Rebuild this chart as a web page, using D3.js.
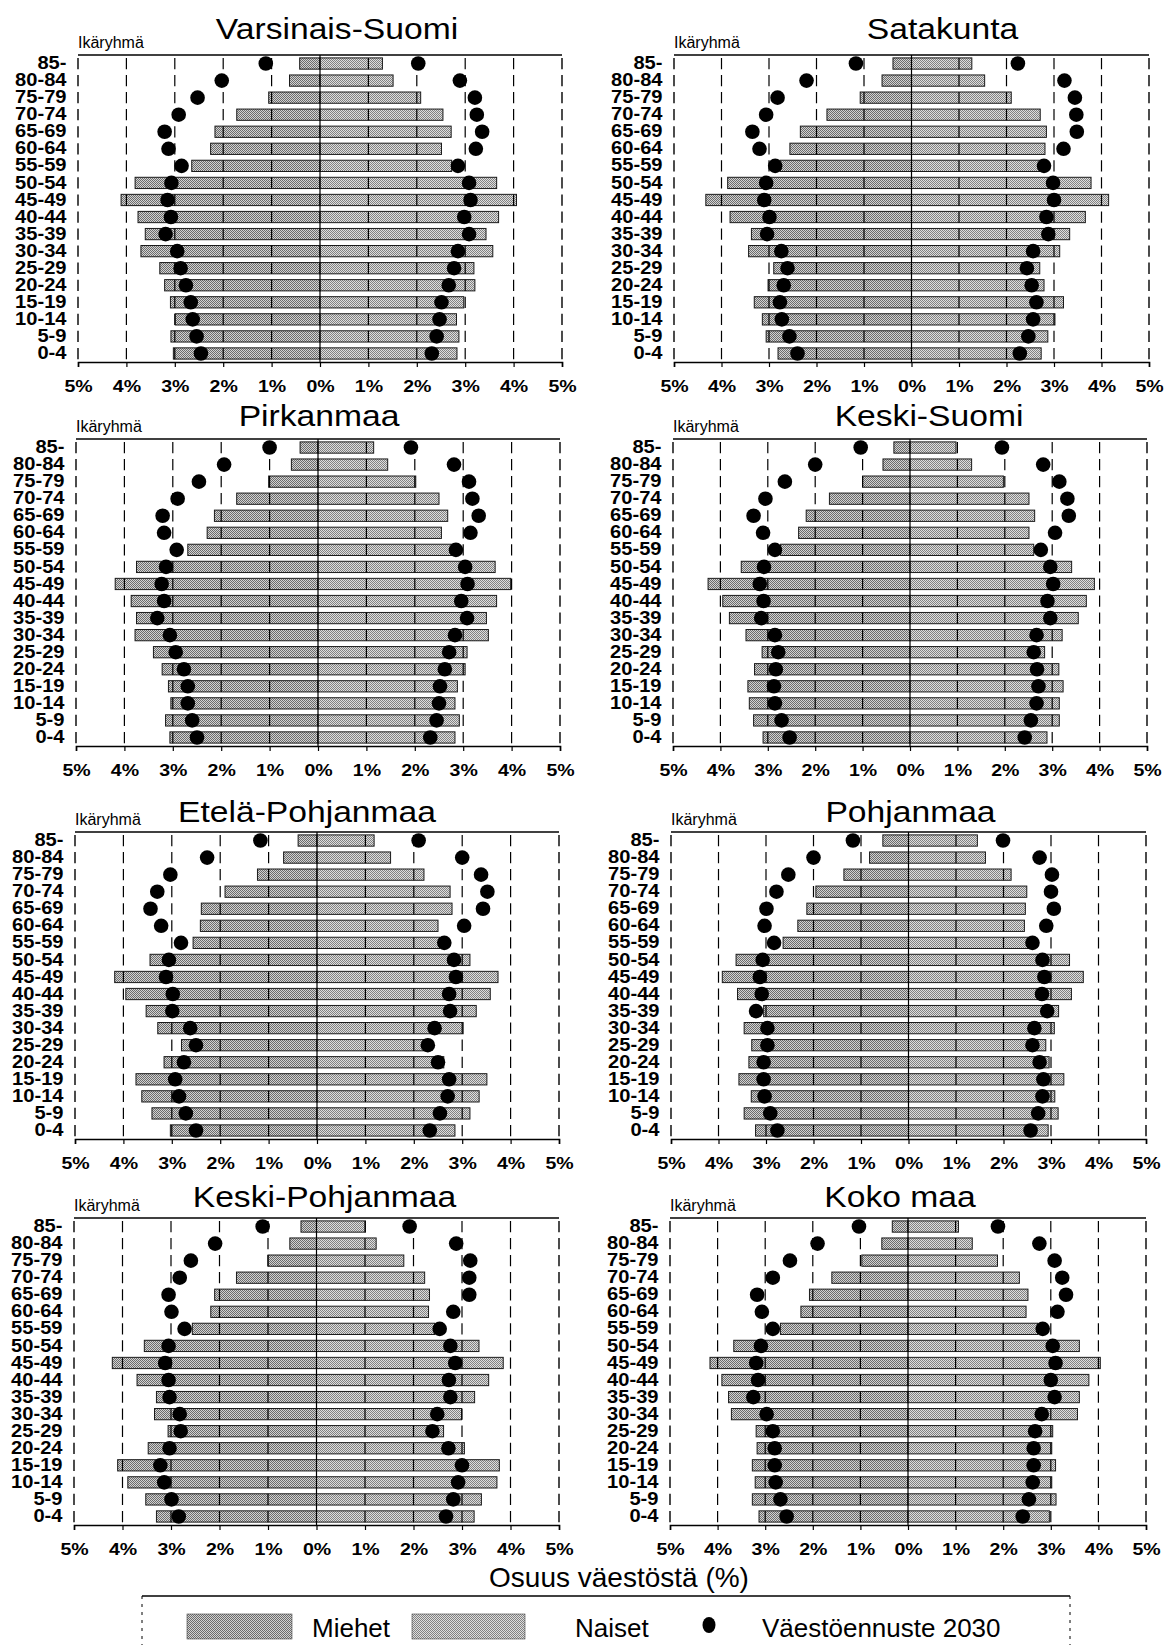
<!DOCTYPE html>
<html><head><meta charset="utf-8">
<script src="https://cdn.jsdelivr.net/npm/d3@7"></script>
<style>
body{margin:0;background:#fff}
svg{display:block}
text{font-family:"Liberation Sans",Arial,Helvetica,sans-serif;fill:#000}
</style>
</head><body>
<svg id="c" width="1171" height="1645"></svg>
<script>
// ---------- DATA ----------
const ageGroups = ["85-","80-84","75-79","70-74","65-69","60-64","55-59","50-54","45-49","40-44","35-39","30-34","25-29","20-24","15-19","10-14","5-9","0-4"];
const regions = ["Varsinais-Suomi","Satakunta","Pirkanmaa","Keski-Suomi","Etelä-Pohjanmaa","Pohjanmaa","Keski-Pohjanmaa","Koko maa"];
const tickValues = [-5,-4,-3,-2,-1,0,1,2,3,4,5];
const tickLabels = ["5%","4%","3%","2%","1%","0%","1%","2%","3%","4%","5%"];
const ageAxisTitle = "Ikäryhmä";
const axisTitle = "Osuus väestöstä (%)";
const legendLabels = ["Miehet","Naiset","Väestöennuste 2030"];

// share of population (%), order of ageGroups (85- first), one row per region
const menShare = [
  [0.42,0.63,1.06,1.72,2.17,2.26,2.65,3.82,4.11,3.76,3.61,3.70,3.31,3.21,3.09,2.99,3.08,3.03],
  [0.39,0.62,1.08,1.78,2.34,2.56,2.77,3.87,4.33,3.82,3.37,3.43,2.90,3.02,3.31,3.14,3.06,2.81],
  [0.37,0.55,1.02,1.68,2.14,2.29,2.69,3.75,4.19,3.86,3.75,3.78,3.40,3.22,3.09,3.04,3.15,3.06],
  [0.34,0.57,1.00,1.70,2.19,2.35,2.73,3.56,4.26,3.95,3.81,3.46,3.12,3.28,3.42,3.39,3.30,3.10],
  [0.39,0.69,1.23,1.90,2.39,2.41,2.56,3.45,4.18,3.95,3.53,3.29,2.80,3.16,3.74,3.62,3.41,3.03],
  [0.54,0.82,1.36,1.95,2.14,2.33,2.64,3.63,3.92,3.60,3.05,3.46,3.30,3.36,3.57,3.31,3.46,3.22],
  [0.32,0.55,1.00,1.65,2.10,2.18,2.56,3.55,4.21,3.70,3.30,3.34,3.06,3.47,4.10,3.89,3.52,3.30],
  [0.33,0.55,0.97,1.60,2.07,2.25,2.68,3.66,4.16,3.91,3.77,3.71,3.19,3.17,3.27,3.21,3.27,3.13]
];
const womenShare = [
  [1.29,1.51,2.08,2.54,2.71,2.51,2.72,3.65,4.06,3.69,3.43,3.57,3.18,3.20,2.97,2.82,2.87,2.83],
  [1.27,1.54,2.10,2.71,2.84,2.81,2.83,3.78,4.15,3.66,3.33,3.12,2.70,2.79,3.20,3.02,2.87,2.73],
  [1.15,1.44,2.02,2.50,2.68,2.55,2.85,3.66,3.98,3.69,3.48,3.52,3.08,3.04,2.88,2.83,2.92,2.83],
  [0.97,1.30,1.97,2.51,2.63,2.51,2.61,3.41,3.89,3.72,3.55,3.21,2.84,3.14,3.23,3.15,3.15,2.89],
  [1.18,1.52,2.21,2.75,2.79,2.50,2.54,3.16,3.74,3.58,3.29,3.02,2.30,2.62,3.51,3.35,3.16,2.85],
  [1.45,1.62,2.16,2.49,2.46,2.44,2.53,3.39,3.68,3.43,3.16,3.07,2.89,2.96,3.27,3.08,3.15,2.94],
  [1.01,1.23,1.80,2.23,2.33,2.31,2.44,3.35,3.85,3.55,3.26,2.99,2.62,3.05,3.77,3.72,3.40,3.25],
  [1.06,1.35,1.88,2.34,2.52,2.48,2.73,3.60,4.04,3.80,3.60,3.56,3.04,3.02,3.10,3.02,3.11,2.97]
];
// population forecast 2030 (%)
const menForecast = [
  [1.12,2.03,2.53,2.92,3.21,3.13,2.86,3.07,3.15,3.08,3.19,2.95,2.88,2.77,2.67,2.63,2.55,2.46],
  [1.17,2.21,2.82,3.06,3.35,3.20,2.87,3.06,3.10,2.99,3.04,2.74,2.61,2.69,2.77,2.73,2.57,2.40],
  [1.00,1.94,2.46,2.90,3.21,3.18,2.92,3.14,3.23,3.18,3.32,3.06,2.94,2.77,2.69,2.69,2.60,2.50],
  [1.04,2.00,2.64,3.05,3.30,3.10,2.85,3.08,3.17,3.09,3.14,2.85,2.78,2.83,2.87,2.85,2.71,2.54],
  [1.17,2.27,3.03,3.30,3.44,3.22,2.81,3.06,3.12,2.98,2.99,2.62,2.50,2.75,2.93,2.85,2.71,2.50],
  [1.17,2.00,2.53,2.78,2.99,3.03,2.83,3.07,3.13,3.09,3.21,2.97,2.97,3.05,3.05,3.03,2.91,2.76],
  [1.11,2.09,2.59,2.82,3.05,2.99,2.72,3.05,3.12,3.05,3.03,2.82,2.80,3.03,3.22,3.14,2.99,2.84],
  [1.03,1.90,2.48,2.84,3.17,3.07,2.84,3.09,3.19,3.15,3.25,2.97,2.84,2.80,2.80,2.78,2.68,2.55]
];
const womenForecast = [
  [2.03,2.89,3.20,3.24,3.35,3.22,2.85,3.08,3.11,2.98,3.08,2.85,2.77,2.66,2.51,2.47,2.41,2.31],
  [2.24,3.22,3.44,3.47,3.48,3.20,2.79,2.98,3.00,2.84,2.88,2.56,2.43,2.53,2.63,2.56,2.46,2.28],
  [1.92,2.81,3.12,3.19,3.32,3.15,2.85,3.04,3.09,2.96,3.08,2.83,2.71,2.62,2.52,2.50,2.45,2.32],
  [1.94,2.81,3.15,3.32,3.35,3.06,2.76,2.96,3.02,2.90,2.96,2.67,2.61,2.68,2.71,2.67,2.55,2.42],
  [2.10,3.00,3.39,3.52,3.43,3.04,2.63,2.83,2.87,2.73,2.75,2.43,2.29,2.50,2.73,2.70,2.54,2.33],
  [1.99,2.76,3.02,3.00,3.06,2.90,2.61,2.82,2.86,2.81,2.92,2.65,2.61,2.76,2.84,2.82,2.73,2.57],
  [1.92,2.88,3.17,3.15,3.15,2.82,2.54,2.76,2.86,2.73,2.76,2.49,2.39,2.72,3.00,2.92,2.82,2.67],
  [1.89,2.76,3.08,3.24,3.32,3.14,2.83,3.04,3.10,3.00,3.08,2.81,2.67,2.64,2.64,2.62,2.54,2.41]
];

// ---------- LAYOUT ----------
const W = 1171, H = 1645;
const panelX = [[78,562],[674,1149],[76,560],[673,1147],[75,559],[671,1146],[74,559],[670,1146]];
const rowTops = [55, 439, 832, 1218];
const plotH = 307;
const titleDy = [-16, -13, -10, -11];
const titleDx = [17, 31, 1, 19, -10, 2, 8, -8];
const SX = 1.15; // horizontal stretch of the reference lettering

const svg = d3.select("#c");
const defs = svg.append("defs");
function pat(id, a, b){
  const p = defs.append("pattern").attr("id", id).attr("patternUnits","userSpaceOnUse")
    .attr("width", 2).attr("height", 2);
  p.append("rect").attr("width",2).attr("height",2).attr("fill", b);
  p.append("rect").attr("width",1).attr("height",1).attr("fill", a);
  p.append("rect").attr("x",1).attr("y",1).attr("width",1).attr("height",1).attr("fill", a);
}
pat("menPat", "#6c6c6c", "#d2d2d2");
pat("womenPat", "#828282", "#dedede");

svg.append("rect").attr("width", W).attr("height", H).attr("fill", "#fff");

regions.forEach((name, i) => {
  const r = Math.floor(i / 2);
  const top = rowTops[r], bottom = top + plotH;
  const x = d3.scaleLinear().domain([-5, 5]).range(panelX[i]);
  const y = d3.scaleBand().domain(ageGroups).range([top, bottom]).paddingInner(0.34).paddingOuter(0.17);
  const g = svg.append("g");

  // bars
  g.selectAll("rect.men").data(ageGroups).join("rect")
    .attr("x", (d, k) => x(-menShare[i][k]))
    .attr("width", (d, k) => x(0) - x(-menShare[i][k]))
    .attr("y", d => y(d)).attr("height", y.bandwidth())
    .attr("fill", "url(#menPat)").attr("stroke", "#1a1a1a").attr("stroke-width", 1);
  g.selectAll("rect.women").data(ageGroups).join("rect")
    .attr("x", x(0))
    .attr("width", (d, k) => x(womenShare[i][k]) - x(0))
    .attr("y", d => y(d)).attr("height", y.bandwidth())
    .attr("fill", "url(#womenPat)").attr("stroke", "#1a1a1a").attr("stroke-width", 1);

  // dashed gridlines (incl. left/right borders), dashes aligned with rows
  const step = y.step(), bw = y.bandwidth();
  const s0 = y(ageGroups[0]) - top;
  g.selectAll("line.grid").data(tickValues.filter(v => v !== 0)).join("line")
    .attr("x1", d => x(d)).attr("x2", d => x(d))
    .attr("y1", top).attr("y2", bottom)
    .attr("stroke", "#000").attr("stroke-width", d => Math.abs(d) === 5 ? 1.4 : 1.2)
    .attr("stroke-dasharray", `${bw.toFixed(2)},${(step - bw).toFixed(2)}`)
    .attr("stroke-dashoffset", (step - s0).toFixed(2));

  // top border
  g.append("line").attr("x1", x(-5)).attr("x2", x(5)).attr("y1", top).attr("y2", top)
    .attr("stroke", "#000").attr("stroke-width", 1.5);

  // zero line
  g.append("line").attr("x1", x(0)).attr("x2", x(0)).attr("y1", top).attr("y2", bottom)
    .attr("stroke", "#000").attr("stroke-width", 1.2);

  // forecast dots
  const cy = d => y(d) + y.bandwidth() / 2;
  g.selectAll("circle.m").data(ageGroups).join("circle")
    .attr("cx", (d, k) => x(-menForecast[i][k])).attr("cy", cy).attr("r", 7.3).attr("fill", "#000");
  g.selectAll("circle.w").data(ageGroups).join("circle")
    .attr("cx", (d, k) => x(womenForecast[i][k])).attr("cy", cy).attr("r", 7.3).attr("fill", "#000");

  // bottom axis
  const ax = g.append("g").attr("transform", `translate(0,${bottom})`)
    .call(d3.axisBottom(x).tickValues(tickValues).tickFormat((d, k) => tickLabels[k]).tickSize(5).tickPadding(13));
  ax.select(".domain").attr("stroke", "#000").attr("stroke-width", 1.6);
  ax.selectAll(".tick line").attr("stroke", "#000").attr("stroke-width", 1.2);
  ax.selectAll(".tick text").attr("font-size", 17).attr("font-weight", "bold")
    .attr("font-family", '"Liberation Sans",Arial,sans-serif')
    .attr("transform", `scale(${SX},1)`);

  // left axis: age groups
  const ay = g.append("g").attr("transform", `translate(${x(-5)},0)`)
    .call(d3.axisLeft(y).tickSize(0).tickPadding(10));
  ay.select(".domain").remove();
  ay.selectAll(".tick text").attr("font-size", 17.5).attr("font-weight", "bold")
    .attr("font-family", '"Liberation Sans",Arial,sans-serif')
    .attr("transform", `scale(${SX},1)`);

  // titles
  g.append("text")
    .attr("transform", `translate(${(x(-5) + x(5)) / 2 + titleDx[i]},${top + titleDy[r]}) scale(1.16,1)`)
    .attr("text-anchor", "middle").attr("font-size", 29).text(name);
  g.append("text").attr("x", x(-5)).attr("y", top - 7)
    .attr("font-size", 16).text(ageAxisTitle);
});

// x-axis title
svg.append("text").attr("x", 619).attr("y", 1587).attr("text-anchor", "middle")
  .attr("font-size", 28).text(axisTitle);

// legend
const lg = svg.append("g");
lg.append("line").attr("x1", 142).attr("x2", 1070).attr("y1", 1596).attr("y2", 1596)
  .attr("stroke", "#000").attr("stroke-width", 1.6);
[142, 1070].forEach(xx => lg.append("line").attr("x1", xx).attr("x2", xx).attr("y1", 1596).attr("y2", 1645)
  .attr("stroke", "#000").attr("stroke-width", 1).attr("stroke-dasharray", "3,5"));
lg.append("rect").attr("x", 187).attr("y", 1614).attr("width", 105).attr("height", 25)
  .attr("fill", "url(#menPat)").attr("stroke", "#444").attr("stroke-width", 0.6);
lg.append("text").attr("x", 312).attr("y", 1637).attr("font-size", 26).text(legendLabels[0]);
lg.append("rect").attr("x", 412).attr("y", 1614).attr("width", 113).attr("height", 25)
  .attr("fill", "url(#womenPat)").attr("stroke", "#444").attr("stroke-width", 0.6);
lg.append("text").attr("x", 575).attr("y", 1637).attr("font-size", 26).text(legendLabels[1]);
lg.append("ellipse").attr("cx", 709).attr("cy", 1625).attr("rx", 6.5).attr("ry", 8).attr("fill", "#000");
lg.append("text").attr("x", 762).attr("y", 1637).attr("font-size", 26).text(legendLabels[2]);
</script>
</body></html>
